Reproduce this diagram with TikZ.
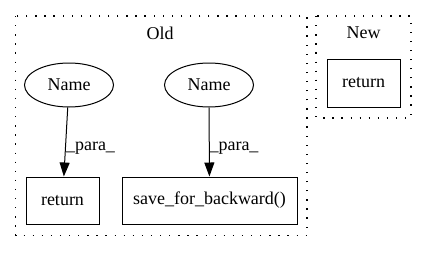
\documentclass[tikz,border=0pt]{standalone}
\usepackage{fontspec}
\setmainfont{Liberation Serif}
\usetikzlibrary{arrows.meta,shapes.geometric}

\begin{document}
\begin{tikzpicture}
	[x=1pt,y=-1pt,>={Triangle[length=14pt,width=10pt]},line width=1pt,
	 every node/.style={font=\fontsize{18}{21}\selectfont},
	 namenode/.style={ellipse,draw,minimum width=89pt,minimum height=44pt,inner sep=0pt},
	 callbox/.style={rectangle,draw,minimum height=47pt,inner sep=0pt},
	 cluster/.style={draw,line width=1.3pt,dash pattern=on 1.3pt off 7.8pt}]
	\useasboundingbox (0,0) rectangle (427,252);
	% clusters
	\draw[cluster] (15.5,16) rectangle (307,235.5);
	\draw[cluster] (316,16) rectangle (411,118);
	\node (old) at (160,33) {Old};
	\node (new) at (363.5,33) {New};
	
	\node[namenode] (name1) at (69,85) {Name};
	\node[namenode] (name2) at (209,85) {Name};
	\node[callbox,minimum width=73pt] (ret1) at (62.5,200.5) {return};
	\node[callbox,minimum width=175pt] (save) at (209.5,200.5) {save\_for\_backward()};
	\node[callbox,minimum width=73pt,minimum height=48pt] (ret2) at (363.5,83) {return};
	
	\foreach \from/\to in {name1/ret1,name2/save}
		\draw[->] (\from) -- (\to);
	\node[anchor=base,inner sep=0pt] (lbl1) at (90.5,150) {\_para\_};
	\node[anchor=base,inner sep=0pt] (lbl2) at (234,150) {\_para\_};
\end{tikzpicture}
\end{document}
